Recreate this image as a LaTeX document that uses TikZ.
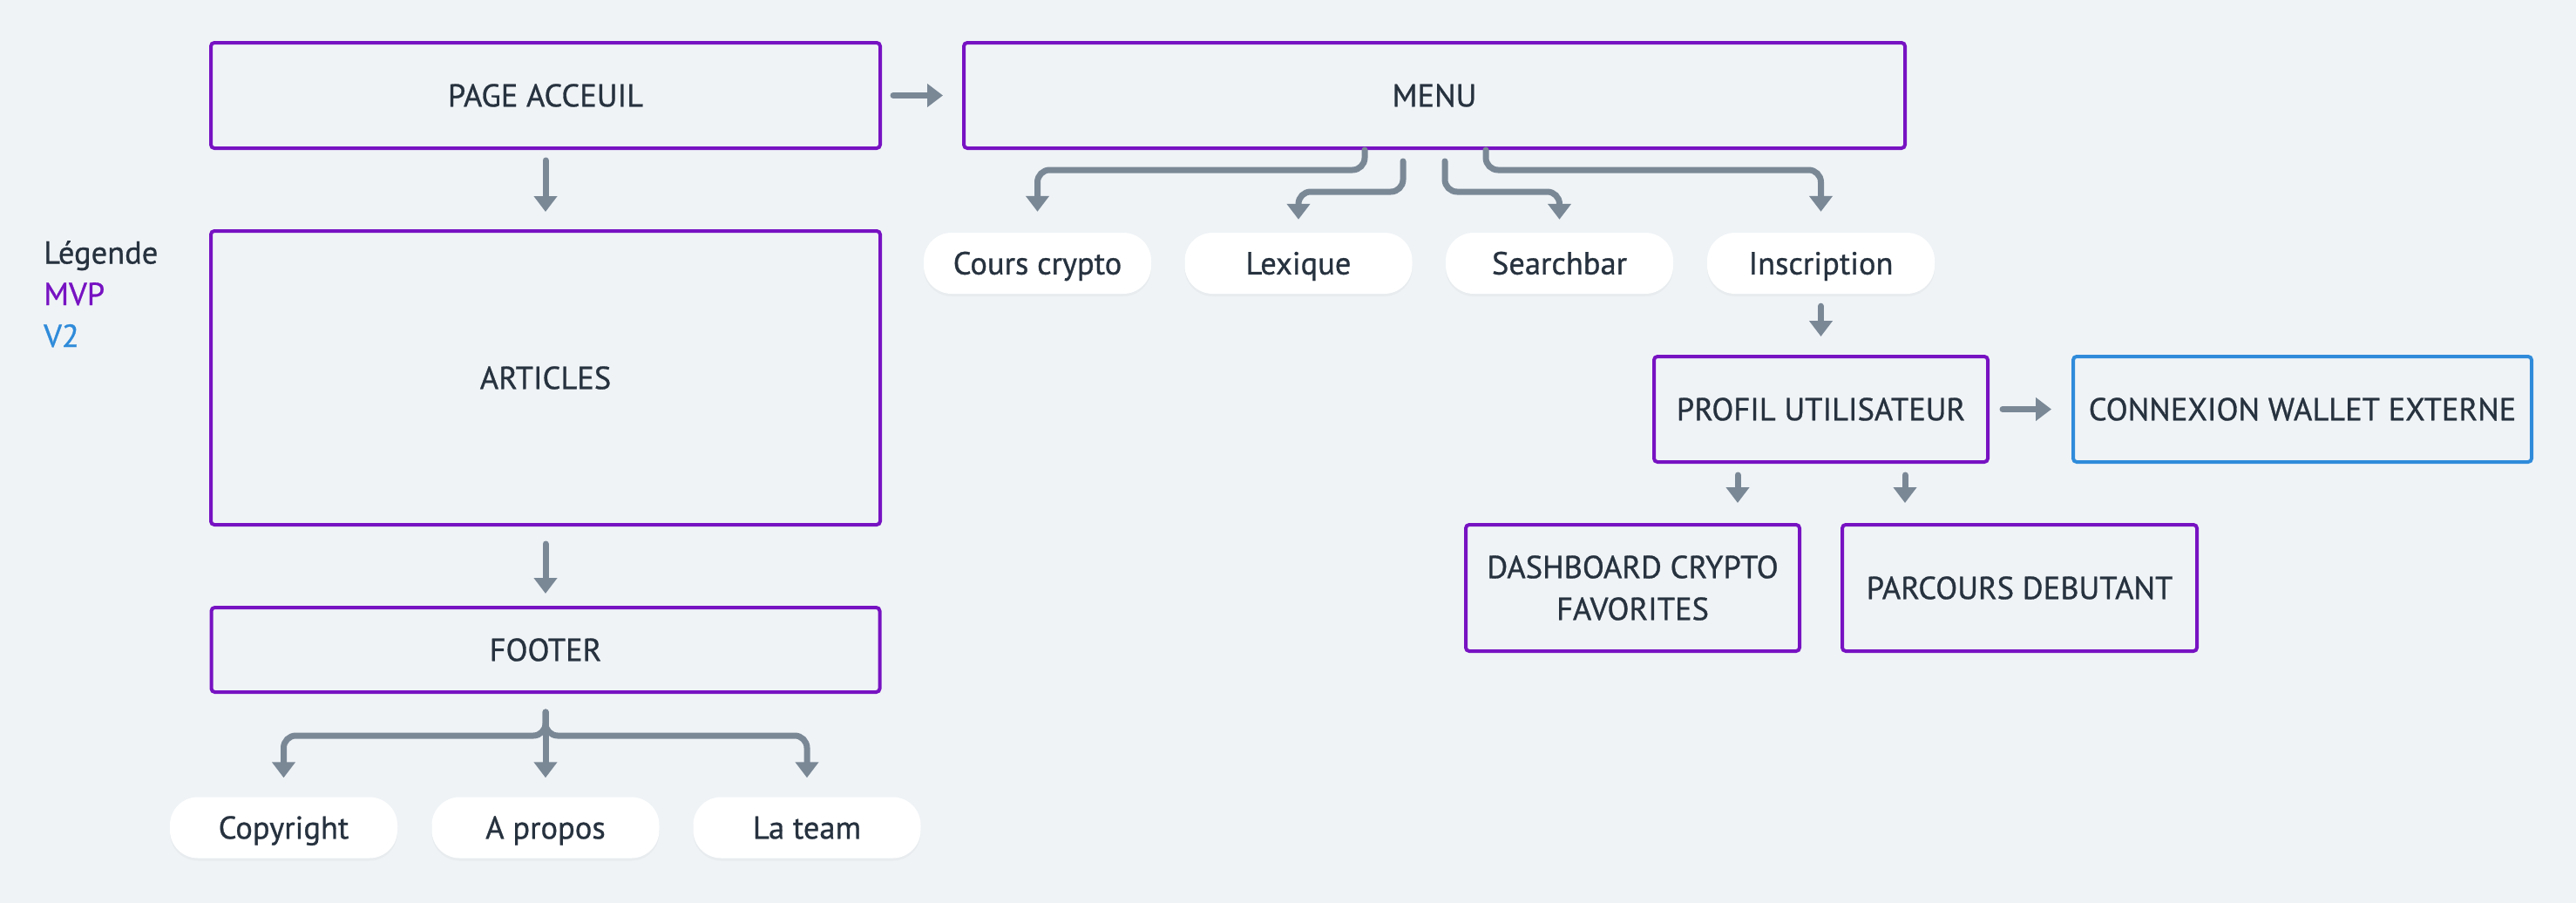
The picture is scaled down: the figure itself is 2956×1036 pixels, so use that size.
\documentclass[tikz,border=0pt]{standalone}
\usepackage{fontspec}
\setmainfont{PT Sans}[RawFeature={embolden=0.8}]
\usetikzlibrary{arrows.meta,shadows}
\definecolor{bg}{HTML}{EFF3F6}
\definecolor{mvp}{HTML}{7712C2}
\definecolor{vtwo}{HTML}{2F8BDA}
\definecolor{conn}{HTML}{7A8896}
\definecolor{ink}{HTML}{27323F}
\begin{document}
\begin{tikzpicture}[x=1pt,y=-1pt,
  every node/.style={font=\fontsize{36.5}{44}\selectfont, text=ink},
  mvpbox/.style={draw=mvp, line width=4pt, rounded corners=4pt, align=center, inner sep=0pt},
  vbox/.style={draw=vtwo, line width=4pt, rounded corners=4pt, align=center, inner sep=0pt},
  pill/.style={fill=white, rounded corners=32pt, minimum width=261pt, minimum height=70pt, inner sep=0pt,
    text height=25.5pt, text depth=0pt,
    drop shadow={opacity=0.06, shadow xshift=0pt, shadow yshift=-3pt}},
  arr/.style={draw=conn, line width=7pt, line cap=round, rounded corners=14pt,
    -{Triangle[width=26pt,length=18pt]}},
  legtext/.style={anchor=base west, inner sep=0pt}
]
\fill[bg] (0,0) rectangle (2956,1036);
\useasboundingbox (0,0) rectangle (2956,1036);

% left column
\node[mvpbox, minimum width=768pt, minimum height=121pt] (page) at (626,109.5) {PAGE ACCEUIL};
\node[mvpbox, minimum width=768pt, minimum height=337pt] (articles) at (626,433.5) {ARTICLES};
\node[mvpbox, minimum width=767pt, minimum height=97pt] (footer) at (626,745.5) {FOOTER};

\node[pill] (copy) at (325.5,949.5) {Copyright};
\node[pill] (apropos) at (626,949.5) {A propos};
\node[pill] (team) at (926,949.5) {La team};

% legend
\node[legtext] (leg) at (50,302.5) {Légende};
\node[legtext, text=mvp] (legmvp) at (50,350) {MVP};
\node[legtext, text=vtwo] (legv2) at (50,398) {V2};

% menu side
\node[mvpbox, minimum width=1080pt, minimum height=121pt] (menu) at (1646,109.5) {MENU};
\node[pill] (cours) at (1190.5,302) {Cours crypto};
\node[pill] (lex) at (1490,302) {Lexique};
\node[pill] (search) at (1789.5,302) {Searchbar};
\node[pill] (insc) at (2089.5,302) {Inscription};

\node[mvpbox, minimum width=383pt, minimum height=121pt] (profil) at (2089.5,469.5) {PROFIL UTILISATEUR};
\node[vbox, minimum width=526pt, minimum height=121pt] (wallet) at (2642,469.5) {CONNEXION WALLET EXTERNE};
\node[mvpbox, minimum width=383pt, minimum height=145pt] (dash) at (1873.5,674.5) {DASHBOARD CRYPTO\\[4pt]FAVORITES};
\node[mvpbox, minimum width=407pt, minimum height=145pt] (parcours) at (2317.5,674.5) {PARCOURS DEBUTANT};

% connectors
\draw[arr, shorten <=12pt, shorten >=20pt] (page.south) -- (articles.north);
\draw[arr, shorten <=20pt, shorten >=14pt] (articles.south) -- (footer.north);
\draw[arr, shorten <=13pt, shorten >=22pt] (page.east) -- (menu.west);

\draw[arr] ([yshift=-21pt]footer.south) -- ++(0,27) -| ([yshift=22pt]copy.north);
\draw[arr] ([yshift=-21pt]footer.south) -- ++(0,27) -| ([yshift=22pt]team.north);
\draw[arr] ([yshift=-21pt]footer.south) -- ([yshift=22pt]apropos.north);

\draw[arr] ([xshift=-80pt]menu.south) -- ++(0,23) -| ([yshift=24pt]cours.north);
\draw[arr] ([xshift=-36pt,yshift=-13pt]menu.south) -- ++(0,35) -| ([yshift=15pt]lex.north);
\draw[arr] ([xshift=12pt,yshift=-13pt]menu.south) -- ++(0,35) -| ([yshift=15pt]search.north);
\draw[arr] ([xshift=59pt]menu.south) -- ++(0,23) -| ([yshift=24pt]insc.north);

\draw[arr, shorten <=14pt, shorten >=21pt] (insc.south) -- (profil.north);
\draw[arr, shorten <=15pt, shorten >=23pt] (profil.east) -- (wallet.west);
\draw[arr, shorten <=13pt, shorten >=23pt] ([xshift=-95.5pt]profil.south) -- ([xshift=-95.5pt]profil.south |- dash.north);
\draw[arr, shorten <=13pt, shorten >=23pt] ([xshift=96.5pt]profil.south) -- ([xshift=96.5pt]profil.south |- parcours.north);
\end{tikzpicture}
\end{document}
